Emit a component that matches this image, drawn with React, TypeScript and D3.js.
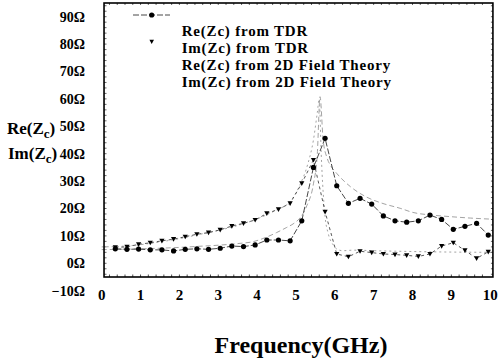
import React from "react";
import * as d3 from "d3";

const W = 502, H = 364;

// TDR measurement frequencies (GHz)
const tdrFreq = [0.35,0.65,0.95,1.25,1.55,1.85,2.15,2.45,2.75,3.05,3.35,3.65,3.95,4.25,4.55,4.85,5.15,5.45,5.75,6.05,6.35,6.65,6.95,7.25,7.55,7.85,8.15,8.45,8.75,9.05,9.35,9.65,9.95];
const reTdr = [5.3,5.1,5.2,4.9,4.9,4.5,5.1,5.3,5.1,5.5,6.3,6.1,6.7,8.5,8.5,8.2,15.5,35.0,45.6,28.3,21.9,23.7,21.6,17.3,15.5,15.0,15.5,17.6,16.0,12.4,13.5,14.6,10.3];
const imTdr = [5.8,6.0,6.9,7.5,8.2,8.8,9.7,10.6,11.2,12.2,13.6,14.6,15.8,18.2,19.7,21.9,29.2,37.7,18.8,3.4,2.4,4.4,3.9,3.4,3.2,2.9,2.5,3.4,6.3,7.5,4.7,1.8,4.2];

// 2D field theory curves
const reThFreq = [0,0.5,1,1.5,2,2.5,3,3.5,3.9,4.25,4.5,4.75,4.95,5.1,5.28,5.45,5.55,5.62,5.7,5.8,5.9,6.05,6.4,6.8,7.2,7.7,8.0,8.5,9.0,9.5,10.05];
const reTh = [5.0,5.1,5.3,5.5,5.8,6.2,6.6,7.2,7.9,9.6,11.2,13.0,14.6,16.5,21,29,40,60.8,45,38.5,35.5,32.8,28,24.3,22,20,18.6,17.6,17.0,16.5,16.1];
const imThFreq = [0,0.5,1,1.5,2,2.5,3,3.5,4,4.5,4.85,5.1,5.3,5.45,5.55,5.6,5.65,5.75,5.83,5.96,6.05,6.2,6.5,7,8,9,10.05];
const imTh = [6.0,6.2,6.8,7.8,9.0,10.5,12.0,13.8,16.2,19.5,22.5,28.5,36,45,55,60,40,17,10.9,6.7,5.2,4.6,4.8,4.6,4.3,4.1,4.0];

const xTicks = [0,1,2,3,4,5,6,7,8,9,10];
const yTicks = [90,80,70,60,50,40,30,20,10,0,-10];
const legendLabels = ["Re(Zc) from TDR","Im(Zc) from TDR","Re(Zc) from 2D Field Theory","Im(Zc) from 2D Field Theory"];

const x = d3.scaleLinear().domain([0, 10]).range([101.7, 490.2]);
const y = d3.scaleLinear().domain([-5, 95]).range([277, 3]);

const X0 = 0.06, X1 = 10.07, Y0 = -5, Y1 = 95;

const line = d3.line<[number, number]>().x(d => x(d[0])).y(d => y(d[1]));

function pairs(a: number[], b: number[]): [number, number][] {
  return a.map((v, i) => [v, b[i]] as [number, number]);
}

const serif = "'Liberation Serif', 'Times New Roman', serif";

function tri(cx: number, cy: number, s: number) {
  return `M${cx - s},${cy - s * 0.8}L${cx + s},${cy - s * 0.8}L${cx},${cy + s}Z`;
}

export default function App() {
  const thLine = d3.line<[number, number]>().x(d => x(d[0])).y(d => y(d[1])).curve(d3.curveMonotoneX);
  const reData = pairs(tdrFreq, reTdr);
  const imData = pairs(tdrFreq, imTdr);

  const bottomMinor = d3.range(0.2, 10.0, 0.2);
  const leftMinor = d3.range(-4, 95, 2);

  const fl = x(X0), fr = x(X1), ft = y(Y1), fb = y(Y0);

  return (
    <svg width={W} height={H} style={{ position: "absolute", left: 0, top: 0, background: "#fff" }} fontFamily={serif}>
      <rect x={0} y={0} width={W} height={H} fill="#fff" />
      {/* theory curves */}
      <path d={thLine(pairs(reThFreq, reTh)) || ""} fill="none" stroke="#999" strokeWidth={0.9} strokeDasharray="5,3" />
      <path d={thLine(pairs(imThFreq, imTh)) || ""} fill="none" stroke="#999" strokeWidth={0.9} strokeDasharray="2,3" />
      {/* TDR lines */}
      <path d={line(reData) || ""} fill="none" stroke="#333" strokeWidth={0.9} strokeDasharray="6,2" />
      <path d={line(imData) || ""} fill="none" stroke="#444" strokeWidth={0.9} strokeDasharray="3,3" />
      {reData.map((d, i) => (
        <circle key={"c" + i} cx={x(d[0])} cy={y(d[1])} r={2.6} fill="#000" />
      ))}
      {imData.map((d, i) => (
        <path key={"t" + i} d={tri(x(d[0]), y(d[1]), 2.6)} fill="#000" />
      ))}
      {/* frame */}
      <rect x={fl} y={ft} width={fr - fl} height={fb - ft} fill="none" stroke="#000" strokeWidth={1.6} />
      {bottomMinor.map((t, i) => (
        <line key={"bm" + i} x1={x(t)} x2={x(t)} y1={fb} y2={fb - 2.5} stroke="#000" strokeWidth={0.7} />
      ))}
      {bottomMinor.map((t, i) => (
        <line key={"tm" + i} x1={x(t)} x2={x(t)} y1={ft} y2={ft + 2} stroke="#000" strokeWidth={0.6} />
      ))}
      {leftMinor.map((t, i) => (
        <line key={"lm" + i} x1={fl} x2={fl + 2.5} y1={y(t)} y2={y(t)} stroke="#000" strokeWidth={0.6} />
      ))}
      {leftMinor.map((t, i) => (
        <line key={"rm" + i} x1={fr} x2={fr - 2} y1={y(t)} y2={y(t)} stroke="#000" strokeWidth={0.6} />
      ))}
      {/* y tick labels */}
      {yTicks.map(t => (
        <text key={"yl" + t} x={85} y={y(t)} dy="0.35em" textAnchor="end" fontSize={14} fontWeight="bold" fill="#000">
          {t < 0 ? "\u2212" + Math.abs(t) : t}Ω
        </text>
      ))}
      {/* x tick labels */}
      {xTicks.map(t => (
        <text key={"xl" + t} x={x(t)} y={295} dy="0.35em" textAnchor="middle" fontSize={15} fontWeight="bold" fill="#000">
          {t}
        </text>
      ))}
      {/* axis titles */}
      <text x={301} y={353} textAnchor="middle" fontSize={24} fontWeight="bold" fill="#000">Frequency(GHz)</text>
      <text x={7} y={134} fontSize={17} fontWeight="bold" fill="#000">
        Re(Z<tspan fontSize={13} dy={4}>c</tspan><tspan dy={-4}>)</tspan>
      </text>
      <text x={8} y={159} fontSize={17} fontWeight="bold" fill="#000">
        Im(Z<tspan fontSize={13} dy={4}>c</tspan><tspan dy={-4}>)</tspan>
      </text>
      {/* legend */}
      <line x1={133} x2={170} y1={15} y2={15} stroke="#333" strokeWidth={0.9} strokeDasharray="6,2" />
      <circle cx={151.7} cy={15} r={2.6} fill="#000" />
      <path d={tri(151.7, 41.7, 2.3)} fill="#000" />
      {legendLabels.map((l, i) => (
        <text key={"lg" + i} x={181.7} y={30.5 + 17 * i} dy="0.35em" fontSize={15} letterSpacing={0.8} fontWeight="bold" fill="#000">
          {l}
        </text>
      ))}
    </svg>
  );
}
